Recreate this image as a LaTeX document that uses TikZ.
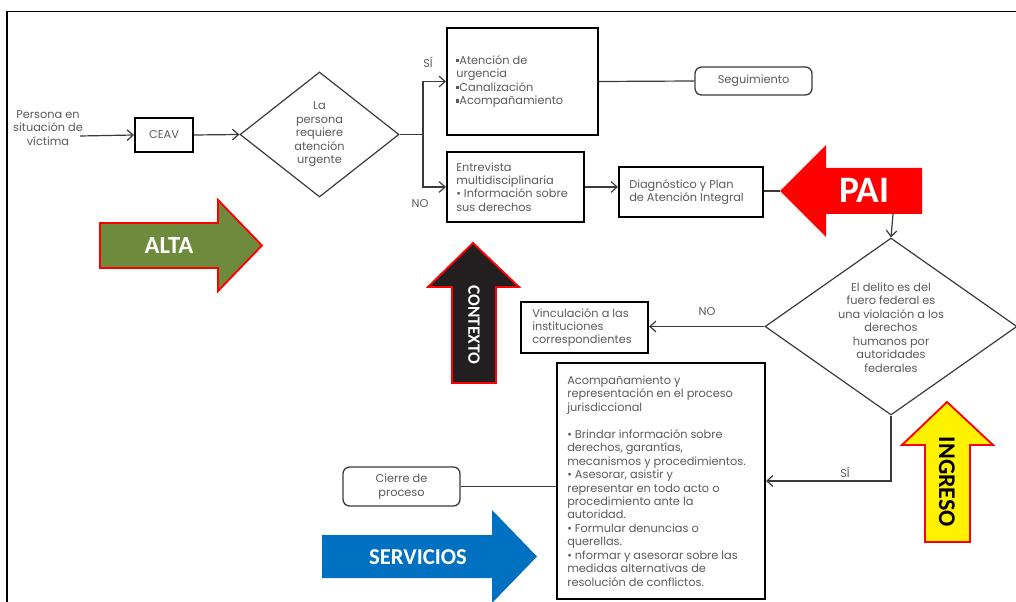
\documentclass[tikz,border=0pt]{standalone}
\usepackage{fontspec}
\setmainfont{Poppins}
\newfontfamily\bigfont{Carlito}
\usetikzlibrary{shapes.geometric,arrows.meta}
\definecolor{txtgray}{HTML}{5A5A5A}
\definecolor{linegray}{HTML}{3A3A3A}
\definecolor{altagreen}{HTML}{6E8B3D}
\definecolor{servblue}{HTML}{0070C0}
\definecolor{ctxblack}{HTML}{231F20}
\newcommand\sqbul{\rule[0.35ex]{0.5ex}{0.5ex}}
\begin{document}
\begin{tikzpicture}[x=0.75pt,y=-0.75pt,
  lbl/.style={font=\fontsize{8.5}{10.1}\selectfont, text=txtgray, inner sep=0pt},
  thickbox/.style={draw=black, line width=1.5pt, inner sep=0pt},
  rbox/.style={draw=linegray, line width=1pt, rounded corners=5pt, inner sep=0pt},
  dia/.style={diamond, draw=linegray, line width=0.9pt, inner sep=0pt},
  conn/.style={draw=linegray, line width=0.9pt},
  arr/.style={conn, -{Straight Barb[length=4.5pt,width=8pt]}},
  bigarrow/.style={line width=1.4pt, line join=miter},
  biglbl/.style={font=\bigfont\bfseries\fontsize{#1}{#1}\selectfont, inner sep=0pt}]
\useasboundingbox (0,0) rectangle (1016,602);
% frame
\draw[line width=1.1pt] (7,602) -- (7,11.5) -- (1016,11.5);

% big coloured arrows
\draw[bigarrow, fill=altagreen, draw=red] (100,223) -- (218,223) -- (218,200) -- (262,245.5) -- (218,291) -- (218,268) -- (100,268) -- cycle;
\node[biglbl=18.5, text=white] (alta) at (169,246) {ALTA};

\fill[red] (922,168) -- (826,168) -- (826,145) -- (780,191) -- (826,237) -- (826,214) -- (922,214) -- cycle;
\node[biglbl=28, text=white] (pai) at (864,190) {PAI};
\coordinate (paitip) at (780,191);
\coordinate (paibot) at (893,214);

\draw[bigarrow, fill=ctxblack, draw=red] (452,383) -- (452,287) -- (428,287) -- (473,243) -- (519,287) -- (496,287) -- (496,383) -- cycle;
\node[biglbl=13, text=white, rotate=-90] (ctx) at (474,325) {CONTEXTO};

\draw[bigarrow, fill=yellow, draw=red] (925,542) -- (925,445) -- (902,445) -- (947,402) -- (993,445) -- (970,445) -- (970,542) -- cycle;
\node[biglbl=18, text=black, rotate=-90] (ing) at (947,482) {INGRESO};

\fill[servblue] (322,535) -- (492,535) -- (492,510) -- (537,556.5) -- (492,603) -- (492,578) -- (322,578) -- cycle;
\node[biglbl=17, text=white] (serv) at (418,557) {SERVICIOS};

% nodes
\node[lbl, align=center] (persona) at (48,128) {Persona en\\situación de\\víctima};
\coordinate (pstart) at (80,136);
\node[thickbox, minimum width=58*0.75pt, minimum height=34*0.75pt] (ceav) at (164,135) {};
\node[lbl] at (ceav) {CEAV};

\node[dia, minimum width=159*0.75pt, minimum height=125*0.75pt] (d1) at (319.5,134.5) {};
\node[lbl, align=center] at (d1) {La\\persona\\requiere\\atención\\urgente};

\node[thickbox, minimum width=151*0.75pt, minimum height=107*0.75pt] (A) at (522.5,81.5) {};
\node[lbl, align=left, anchor=west] at ([xshift=10*0.75pt]A.west) {\sqbul Atención de\\urgencia\\\sqbul Canalización\\\sqbul Acompañamiento};

\node[rbox, minimum width=117*0.75pt, minimum height=28*0.75pt] (seg) at (753.5,81) {};
\node[lbl] at (seg) {Seguimiento};

\node[thickbox, minimum width=137*0.75pt, minimum height=70*0.75pt] (B) at (515.5,187) {};
\node[lbl, align=left, anchor=west] at ([xshift=10*0.75pt]B.west) {Entrevista\\multidisciplinaria\\\textbullet{} Información sobre\\sus derechos};

\node[thickbox, minimum width=144*0.75pt, minimum height=50*0.75pt] (C) at (691,192) {};
\node[lbl, align=left, anchor=west] at ([xshift=11*0.75pt]C.west) {Diagnóstico y Plan\\de Atención Integral};

\node[dia, minimum width=252*0.75pt, minimum height=177*0.75pt] (d2) at (891,326.5) {};
\node[lbl, align=center] at ([yshift=-1*0.75pt]d2) {El delito es del\\fuero federal  es\\una violación a los\\derechos\\humanos por\\autoridades\\federales};

\node[thickbox, minimum width=127*0.75pt, minimum height=51*0.75pt] (vinc) at (584.5,327.5) {};
\node[lbl, align=left, anchor=west] at ([xshift=12*0.75pt]vinc.west) {Vinculación a las\\instituciones\\correspondientes};

\node[thickbox, minimum width=208*0.75pt, minimum height=236*0.75pt] (D) at (661,481) {};
\node[lbl, align=left, anchor=west] at ([xshift=11*0.75pt]D.west) {Acompañamiento y\\representación en el proceso\\jurisdiccional\\[10.1pt]\textbullet{} Brindar información  sobre\\derechos, garantías,\\mecanismos y procedimientos.\\\textbullet{} Asesorar, asistir  y\\representar en todo acto o\\procedimiento ante la\\autoridad.\\\textbullet{} Formular denuncias o\\querellas.\\\textbullet{} nformar y asesorar sobre las\\medidas alternativas de\\resolución de conflictos.};

\node[rbox, minimum width=117*0.75pt, minimum height=39*0.75pt] (cierre) at (401.5,486.5) {};
\node[lbl, align=center] at (cierre) {Cierre de\\proceso};

% connectors
\draw[arr] (pstart) -- (ceav.west);
\draw[arr] (ceav.east) -- (d1.west);
\coordinate (br) at (423,134.5);
\draw[conn] (d1.east) -- (br);
\draw[arr] (br) |- (A.west);
\draw[arr] (br) |- (B.west);
\node[lbl] (si1) at (428,62) {SÍ};
\node[lbl] (no1) at (420,204) {NO};
\draw[conn] (A.east) -- (seg.west);
\draw[arr] (B.east) -- (B.east -| C.west);
\draw[conn] (C.east |- paitip) -- (paitip);
\draw[arr] (paibot) -- (d2.north);
\draw[arr] (d2.west) -- (d2.west -| vinc.east);
\node[lbl] (no2) at (707,312) {NO};
\draw[arr] (d2.south) |- (D.east);
\node[lbl] (si2) at (845,472) {SÍ};
\draw[conn] (cierre.east) -- (cierre.east -| D.west);
\end{tikzpicture}
\end{document}
